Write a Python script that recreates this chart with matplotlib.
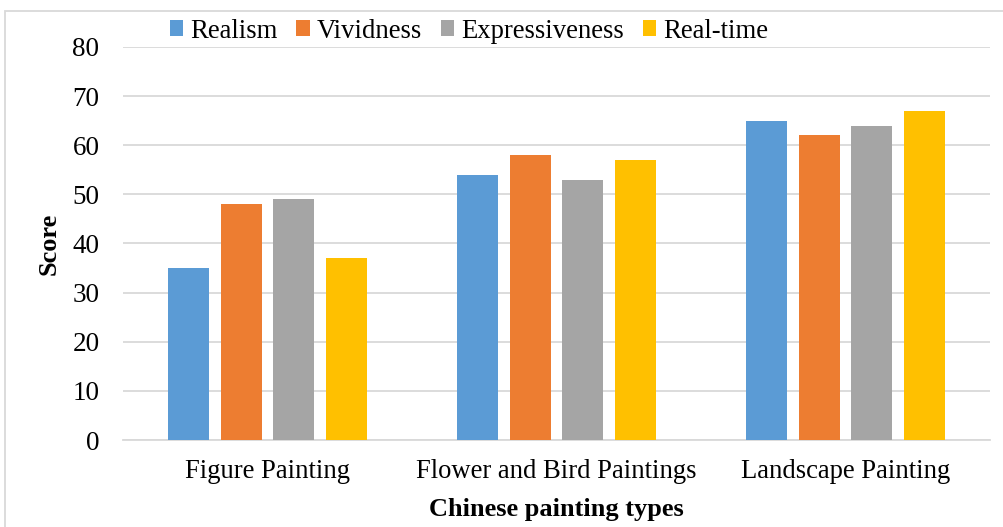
import numpy as np
import matplotlib as mpl
import matplotlib.pyplot as plt
import matplotlib.patches as mpatches

mpl.rc('font', family='Liberation Serif', size=19)

# data
categories = ['Figure Painting', 'Flower and Bird Paintings', 'Landscape Painting']
series = ['Realism', 'Vividness', 'Expressiveness', 'Real-time']
realism = [35, 54, 65]
vividness = [48, 58, 62]
expressiveness = [49, 53, 64]
realtime = [37, 57, 67]
yticks = [0, 10, 20, 30, 40, 50, 60, 70, 80]

values = [realism, vividness, expressiveness, realtime]
colors = ['#5B9BD5', '#ED7D31', '#A5A5A5', '#FFC000']

fig = plt.figure(figsize=(10.04, 5.27), dpi=100)
ax = fig.add_axes([123/1004, 1 - 440/527, (990-123)/1004, (440-47)/527])

x = np.arange(len(categories))
w = 0.142
step = 0.182
for i, (name, vals) in enumerate(zip(series, values)):
    ax.bar(x + (i - 1.5)*step, vals, w, color=colors[i], label=name, zorder=3)

ax.set_xlim(-0.5, 2.5)
ax.set_ylim(0, 80)
ax.set_yticks(yticks)
ax.set_xticks(x)
ax.set_xticklabels(categories, fontsize=19.2)
ax.tick_params(axis='y', labelsize=19.5, length=0, pad=17)
ax.tick_params(axis='x', length=0, pad=14)
ax.yaxis.grid(True, color='#D9D9D9', lw=1.3, zorder=0)
for s in ['top', 'right', 'left']:
    ax.spines[s].set_visible(False)
ax.spines['bottom'].set_color('#D9D9D9')
ax.spines['bottom'].set_linewidth(1.3)

ax.set_ylabel('Score', fontsize=19, fontweight='bold')
ax.yaxis.set_label_coords(-(123 - 61)/867, 0.5)
ax.set_xlabel('Chinese painting types', fontsize=19, fontweight='bold', labelpad=10)

fig.legend(loc='center', bbox_to_anchor=(469/1004, 1 - 31/527), ncol=4, frameon=False,
           fontsize=19.2, handlelength=0.5, handleheight=0.5, handletextpad=0.26,
           columnspacing=0.71, borderpad=0)

# light border around the figure (cut off at right and bottom)
border = mpatches.Rectangle((5/1004, -0.05), 1.1, 1 - 11/527 + 0.05, transform=fig.transFigure,
                            fill=False, edgecolor='#D9D9D9', lw=1.3, clip_on=False)
fig.patches.append(border)

plt.savefig('out.png', dpi=100)
